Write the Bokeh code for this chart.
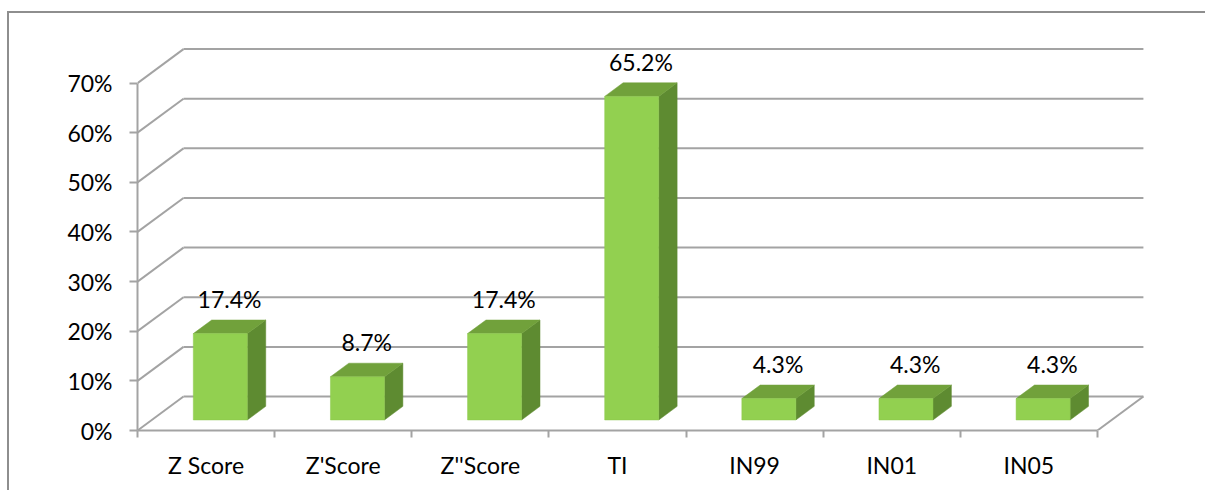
from bokeh.plotting import figure
from bokeh.models import (Range1d, FixedTicker, NumeralTickFormatter, ColumnDataSource,
                          LinearAxis, InlineStyleSheet)
from bokeh.core.properties import value
from bokeh.embed import file_html
from bokeh.resources import INLINE

# Share of cases per model
categories = ["Z Score", "Z'Score", "Z''Score", "TI", "IN99", "IN01", "IN05"]
shares = [0.174, 0.087, 0.174, 0.652, 0.043, 0.043, 0.043]
y_ticks = [0.0, 0.1, 0.2, 0.3, 0.4, 0.5, 0.6, 0.7]

# Oblique projection of the depth axis (in data units)
DX = 0.3354          # horizontal shift of the back wall, in category widths
DY = 0.0685          # vertical shift of the back wall, in share units
Z0, Z1 = 0.31, 0.71  # front and back of each bar, as fraction of depth
HALF_W = 0.197       # half width of a bar's front face

FONT = "Lato"
FS = "23px"
GRID = "#a3a3a3"

p = figure(width=1205, height=490, output_backend="svg", toolbar_location=None,
           x_range=Range1d(0, 7.46), y_range=Range1d(0, 0.806),
           min_border_left=137, min_border_bottom=60, min_border_top=30,
           min_border_right=45, x_axis_type=None, y_axis_type=None)
p.outline_line_color = None
p.grid.visible = False
p.background_fill_color = "white"
p.border_fill_color = "white"

# chart area frame: left and top edges of the surrounding box
p.stylesheets = [InlineStyleSheet(css="""
:host::after {
  content: "";
  position: absolute;
  left: 7px; top: 11px; right: 0px; bottom: 0px;
  border-left: 2px solid #8e8e8e;
  border-top: 2px solid #8e8e8e;
  pointer-events: none;
  z-index: 100;
}
""")]

n = len(categories)

# back wall gridlines and the left wall diagonals
wall_x0, wall_y0, wall_x1, wall_y1 = [], [], [], []
for t in y_ticks:
    wall_x0.append(DX); wall_y0.append(t + DY)
    wall_x1.append(n + DX); wall_y1.append(t + DY)
    wall_x0.append(0); wall_y0.append(t)
    wall_x1.append(DX); wall_y1.append(t + DY)
# right edge of the floor
wall_x0.append(n); wall_y0.append(0)
wall_x1.append(n + DX); wall_y1.append(DY)
p.segment(wall_x0, wall_y0, wall_x1, wall_y1, line_color=GRID, line_width=2)

# 3D bars: front, top and side faces
front_xs, front_ys, top_xs, top_ys, side_xs, side_ys = [], [], [], [], [], []
for i, v in enumerate(shares):
    xl = i + 0.5 - HALF_W
    xr = i + 0.5 + HALF_W
    fx, fy = Z0 * DX, Z0 * DY
    bx, by = Z1 * DX, Z1 * DY
    front_xs.append([xl + fx, xr + fx, xr + fx, xl + fx])
    front_ys.append([fy, fy, v + fy, v + fy])
    top_xs.append([xl + fx, xr + fx, xr + bx, xl + bx])
    top_ys.append([v + fy, v + fy, v + by, v + by])
    side_xs.append([xr + fx, xr + bx, xr + bx, xr + fx])
    side_ys.append([fy, by, v + by, v + fy])

p.patches(side_xs, side_ys, fill_color="#5e8b31", line_color="#5e8b31", line_width=0.5)
p.patches(top_xs, top_ys, fill_color="#71a13b", line_color="#71a13b", line_width=0.5)
p.patches(front_xs, front_ys, fill_color="#92d050", line_color="#8cc84c", line_width=0.5)

# value labels above each bar
lab = ColumnDataSource(dict(
    x=[i + 0.5 + (Z0 + Z1) / 2 * DX for i in range(n)],
    y=[v + Z1 * DY for v in shares],
    t=[f"{v * 100:.1f}%" for v in shares],
))
p.text("x", "y", text="t", source=lab, text_font=value(FONT), text_font_size=value(FS),
       text_align="center", text_baseline="bottom", y_offset=-7, text_color="#000000")

# value axis
yax = LinearAxis(ticker=FixedTicker(ticks=y_ticks), formatter=NumeralTickFormatter(format="0%"),
                 bounds=(0, 0.7))
yax.axis_line_color = GRID
yax.axis_line_width = 2
yax.major_tick_line_color = GRID
yax.major_tick_line_width = 2
yax.major_tick_out = 8
yax.major_tick_in = 0
yax.minor_tick_line_color = None
yax.major_label_standoff = 17
yax.major_label_text_font = FONT
yax.major_label_text_font_size = FS
yax.major_label_text_color = "#000000"
p.add_layout(yax, "left")

# category axis: ticks on category boundaries, labels at centres
xax = LinearAxis(ticker=FixedTicker(ticks=[i + 0.5 for i in range(n)],
                                    minor_ticks=list(range(n + 1))),
                 bounds=(0, n))
xax.major_label_overrides = {i + 0.5: c for i, c in enumerate(categories)}
xax.axis_line_color = GRID
xax.axis_line_width = 2
xax.major_tick_line_color = None
xax.minor_tick_line_color = GRID
xax.minor_tick_line_width = 2
xax.minor_tick_out = 7
xax.minor_tick_in = 0
xax.major_tick_out = 7
xax.major_label_standoff = 13
xax.major_label_text_font = FONT
xax.major_label_text_font_size = FS
xax.major_label_text_color = "#000000"
p.add_layout(xax, "below")

open("out.html", "w").write(file_html(p, INLINE))
